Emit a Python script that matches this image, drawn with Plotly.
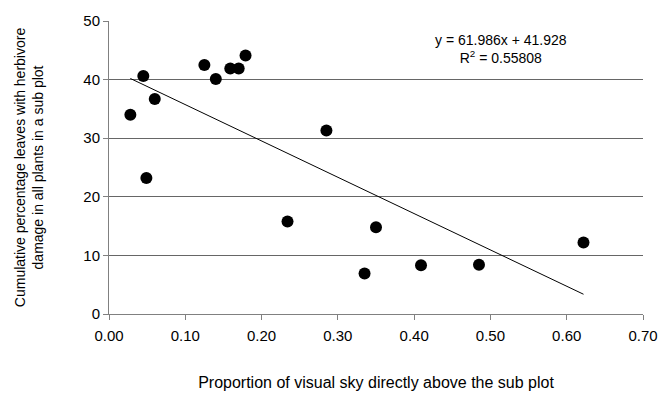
import plotly.graph_objects as go

# Data
sky_proportion = [0.028, 0.045, 0.049, 0.060, 0.125, 0.140, 0.159, 0.170, 0.179,
                  0.234, 0.285, 0.335, 0.350, 0.409, 0.485, 0.622]
herbivore_damage = [34.0, 40.6, 23.2, 36.7, 42.5, 40.1, 41.9, 41.9, 44.1,
                    15.8, 31.3, 6.9, 14.8, 8.3, 8.4, 12.2]

slope = -61.986
intercept = 41.928
equation_text = "y = 61.986x + 41.928"
r2_text = "R<sup>2</sup> = 0.55808"

x_ticks = [0.0, 0.1, 0.2, 0.3, 0.4, 0.5, 0.6, 0.7]
y_ticks = [0, 10, 20, 30, 40, 50]

x_fit = [min(sky_proportion), max(sky_proportion)]
y_fit = [intercept + slope * v for v in x_fit]

font_family = "Liberation Sans, Arial, sans-serif"

fig = go.Figure()
fig.add_trace(go.Scatter(
    x=x_fit, y=y_fit, mode="lines",
    line=dict(color="#000000", width=1),
    showlegend=False, hoverinfo="skip"))
fig.add_trace(go.Scatter(
    x=sky_proportion, y=herbivore_damage, mode="markers",
    marker=dict(color="#000000", size=12),
    showlegend=False))

fig.add_annotation(
    x=0.514, y=45.3, xref="x", yref="y",
    text=equation_text + "<br>" + r2_text, align="center",
    showarrow=False, font=dict(family=font_family, size=14, color="#000000"))

fig.update_layout(
    width=671, height=401,
    margin=dict(l=109, r=28, t=18, b=87),
    paper_bgcolor="white", plot_bgcolor="white",
    font=dict(family=font_family, size=15, color="#000000"),
)
fig.update_xaxes(
    range=[0, 0.7], tickvals=x_ticks, tickformat=".2f",
    showgrid=False, zeroline=False,
    showline=True, linecolor="#808080", linewidth=1,
    ticks="outside", ticklen=5, tickcolor="#808080",
    ticklabelstandoff=3,
    title=dict(text="Proportion of visual sky directly above the sub plot",
               font=dict(size=16), standoff=33),
)
fig.update_yaxes(
    range=[0, 50], tickvals=y_ticks,
    showgrid=True, gridcolor="#666666", gridwidth=1,
    zeroline=False,
    showline=True, linecolor="#808080", linewidth=1,
    ticks="outside", ticklen=5, tickcolor="#808080",
    ticklabelstandoff=0,
    title=dict(text="Cumulative percentage leaves with herbivore<br>damage in all plants in a sub plot",
               font=dict(size=14), standoff=36),
)

fig.write_html("out.html", config={"displayModeBar": False},
               post_script="document.body.style.margin='0';")
